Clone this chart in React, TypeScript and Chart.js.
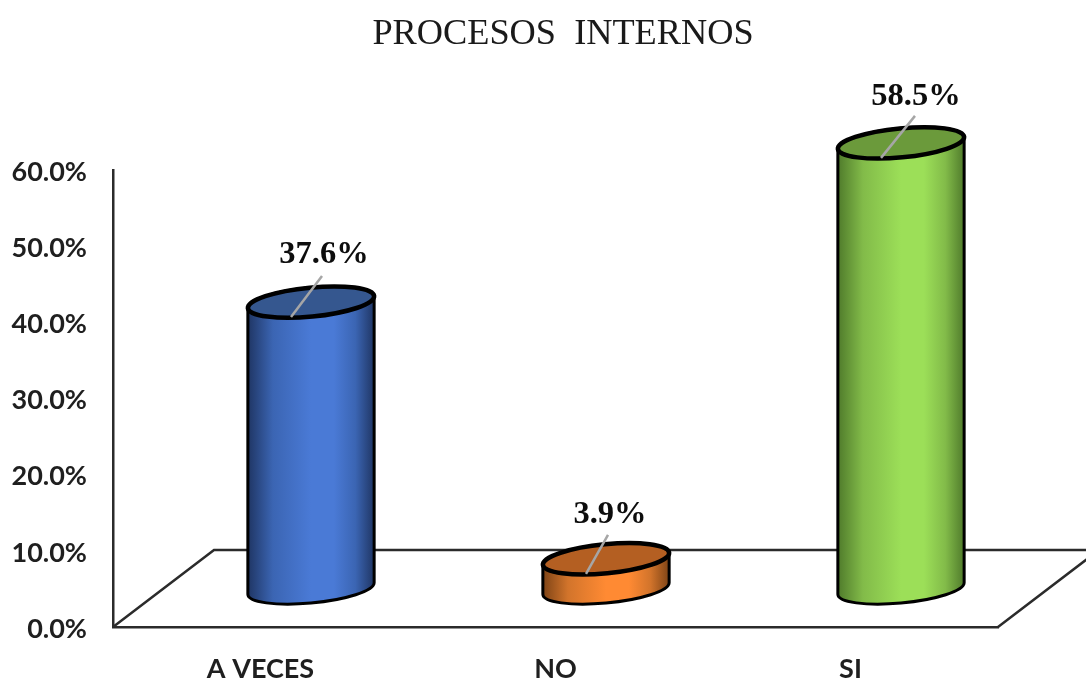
import React, { useEffect, useRef } from "react";
import { Chart, registerables } from "chart.js";

Chart.register(...registerables);

const categories = ["A VECES", "NO", "SI"];
const values = [37.6, 3.9, 58.5];
const sideLight = ["#4a7ad6", "#ff8a33", "#9cdf58"];
const sideMid = ["#3b65b3", "#d2742b", "#82bb49"];
const sideDark = ["#1f3563", "#7d4316", "#4f7a2b"];
const capColors = ["#35578f", "#b45f22", "#6b9a3b"];
const tickStep = 10;
const axisMax = 60;

// Each value label was nudged by hand away from its cylinder cap.
const labelShift = [
  { dx: 13, dy: -47 },
  { dx: 4, dy: -44 },
  { dx: 15, dy: -46 },
];
const leaderEnd = [
  { dx: 11, dy: -26 },
  { dx: 2, dy: -24 },
  { dx: 14, dy: -27 },
];

const DEPTH_X = 101;
const DEPTH_Y = 77;
const TILT = (-5.5 * Math.PI) / 180;
const CAP_MINOR = 14.5;

const cylinders = {
  id: "cylinders",
  afterLayout(chart: any) {
    // The title is centred on a span that ignores the right-hand floor overhang.
    if (chart.titleBlock) {
      chart.titleBlock.left = 40;
      chart.titleBlock.right = 1086;
    }
    // Tick labels sit a little below their tick position.
    chart.scales.y.getLabelItems().forEach((item: any) => {
      item.options.translation[1] += 2;
    });
  },
  beforeDatasetsDraw(chart: any) {
    const { ctx, chartArea: area } = chart;
    ctx.save();
    ctx.strokeStyle = "#2b2b2b";
    ctx.lineWidth = 2.5;
    ctx.beginPath();
    ctx.moveTo(area.left, area.bottom);
    ctx.lineTo(area.left + DEPTH_X, area.bottom - DEPTH_Y);
    ctx.lineTo(area.right + DEPTH_X, area.bottom - DEPTH_Y);
    ctx.lineTo(area.right, area.bottom);
    ctx.stroke();
    ctx.restore();
  },
  beforeDatasetDraw() {
    return false;
  },
  afterDatasetsDraw(chart: any) {
    const { ctx } = chart;
    const meta = chart.getDatasetMeta(0);
    meta.data.forEach((bar: any, i: number) => {
      const cx = bar.x + DEPTH_X / 2;
      const topY = bar.y - DEPTH_Y / 2;
      const baseY = bar.base - DEPTH_Y / 2;
      const a = bar.width / 2;
      const edge = Math.atan(-(CAP_MINOR / a) * Math.tan(TILT));

      const shade = ctx.createLinearGradient(cx - a, 0, cx + a, 0);
      shade.addColorStop(0, sideDark[i]);
      shade.addColorStop(0.2, sideMid[i]);
      shade.addColorStop(0.5, sideLight[i]);
      shade.addColorStop(0.68, sideLight[i]);
      shade.addColorStop(0.85, sideMid[i]);
      shade.addColorStop(1, sideDark[i]);

      ctx.save();
      ctx.lineJoin = "round";
      ctx.strokeStyle = "#000000";

      // Cylinder wall: lower half of the base ellipse joined to the upper half of the cap.
      ctx.beginPath();
      ctx.ellipse(cx, baseY, a, CAP_MINOR, TILT, edge, edge + Math.PI, false);
      ctx.ellipse(cx, topY, a, CAP_MINOR, TILT, edge + Math.PI, edge + 2 * Math.PI, false);
      ctx.closePath();
      ctx.fillStyle = shade;
      ctx.fill();
      ctx.lineWidth = 3;
      ctx.stroke();

      // Darker cap on top of the wall.
      ctx.beginPath();
      ctx.ellipse(cx, topY, a, CAP_MINOR, TILT, 0, 2 * Math.PI);
      ctx.fillStyle = capColors[i];
      ctx.fill();
      ctx.lineWidth = 4.5;
      ctx.stroke();

      // Leader from the front of the cap towards the value label.
      ctx.beginPath();
      ctx.moveTo(cx - 20, topY + 15);
      ctx.lineTo(cx + leaderEnd[i].dx, topY + leaderEnd[i].dy);
      ctx.strokeStyle = "#a6a6a6";
      ctx.lineWidth = 2.5;
      ctx.stroke();

      ctx.fillStyle = "#0d0d0d";
      ctx.font = 'bold 32.5px "Liberation Serif"';
      ctx.textAlign = "center";
      ctx.textBaseline = "middle";
      ctx.fillText(`${values[i].toFixed(1)}%`, cx + labelShift[i].dx, topY + labelShift[i].dy);
      ctx.restore();
    });
  },
};

export default function App() {
  const ref = useRef<HTMLCanvasElement>(null);

  useEffect(() => {
    const chart = new Chart(ref.current!, {
      type: "bar",
      data: {
        labels: categories,
        datasets: [
          {
            data: values,
            backgroundColor: sideLight,
            barPercentage: 0.43,
            categoryPercentage: 1,
          },
        ],
      },
      options: {
        responsive: false,
        animation: false,
        layout: { padding: { right: 88 } },
        plugins: {
          legend: { display: false },
          tooltip: { enabled: false },
          title: {
            display: true,
            text: "PROCESOS  INTERNOS",
            color: "#1a1a1a",
            font: { family: '"Liberation Serif"', size: 36.3, weight: "normal", lineHeight: 1.2 },
            padding: { top: 12.4, bottom: 114 },
          },
        },
        scales: {
          x: {
            grid: { display: false, drawTicks: false },
            border: { display: true, color: "#2b2b2b", width: 2.5 },
            ticks: {
              color: "#1f1f1f",
              padding: 26,
              maxRotation: 0,
              font: { family: "Lato", size: 27, weight: "bold" },
            },
            afterFit(scale: any) {
              scale.height = 53;
            },
          },
          y: {
            min: 0,
            max: axisMax,
            grid: { display: false, drawTicks: false },
            border: { display: true, color: "#2b2b2b", width: 2.5 },
            ticks: {
              stepSize: tickStep,
              color: "#1f1f1f",
              padding: 26,
              font: { family: "Lato", size: 27, weight: "bold" },
              callback: (v: any) => `${Number(v).toFixed(1)}%`,
            },
            afterFit(scale: any) {
              scale.width = 113;
            },
          },
        },
      },
      plugins: [cylinders],
    } as any);
    return () => chart.destroy();
  }, []);

  return (
    <canvas
      ref={ref}
      width={1086}
      height={680}
      style={{ position: "fixed", left: 0, top: 0, display: "block" }}
    />
  );
}
